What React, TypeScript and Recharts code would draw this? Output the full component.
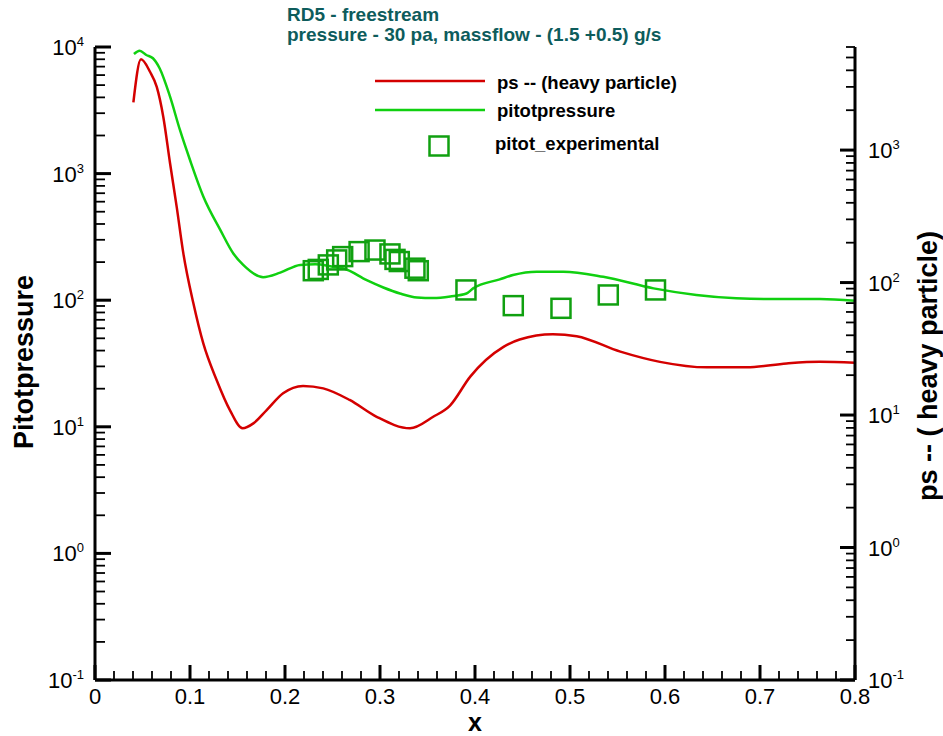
import React from "react";
import { ComposedChart, Line, Scatter, XAxis, YAxis } from "recharts";

// pitotpressure (left axis)
const pitotX = [
  0.041, 0.047, 0.054, 0.061, 0.068, 0.079, 0.0895, 0.1, 0.114, 0.132, 0.1456, 0.156, 0.177, 0.195, 0.216,
  0.232, 0.25, 0.262, 0.286, 0.3035, 0.321, 0.339, 0.356, 0.374, 0.391, 0.398, 0.426, 0.44, 0.465, 0.493,
  0.535, 0.588, 0.633, 0.675, 0.71, 0.763, 0.8,
];
const pitotY = [
  8800, 9350, 8650, 8150, 6800, 4050, 2200, 1280, 660, 358, 234, 190, 152, 165, 190,
  192, 184, 178, 144, 126, 113, 105, 104, 107, 113, 124, 146, 158, 168, 168,
  153, 124, 110, 103.5, 102, 102, 99,
];

// ps -- (heavy particle) (right axis)
const psX = [
  0.0404, 0.0484, 0.0579, 0.065, 0.0719, 0.079, 0.086, 0.093, 0.1035, 0.114, 0.128, 0.142, 0.1554, 0.1667,
  0.1807, 0.198, 0.219, 0.2403, 0.268, 0.2965, 0.3316, 0.356, 0.3737, 0.395, 0.43, 0.447, 0.482, 0.507,
  0.553, 0.5947, 0.644, 0.686, 0.728, 0.763, 0.8,
];
const psY = [
  2290, 4840, 3900, 3000, 1780, 795, 373, 166, 70, 34.7, 18.4, 10.9, 7.94, 8.65,
  10.9, 14.6, 16.6, 15.9, 13.0, 9.7, 7.94, 9.7, 11.8, 19.5, 32.7, 37.2, 40.8, 39.4,
  30.1, 25.2, 22.9, 22.9, 24.5, 25.2, 24.8,
];

// pitot_experimental (left axis)
const expX = [
  0.2298, 0.235, 0.2456, 0.2544, 0.2607, 0.278, 0.2947, 0.3105, 0.3158, 0.3203, 0.3368, 0.3403,
  0.3905, 0.4403, 0.4905, 0.5403, 0.59,
];
const expY = [171, 175, 190, 208, 221, 242, 249, 232, 210, 202, 179, 171, 120.5, 90.6, 86.3, 110, 120.5];

const xMajorTicks = [0, 0.1, 0.2, 0.3, 0.4, 0.5, 0.6, 0.7, 0.8];
const leftDecades = [0.1, 1, 10, 100, 1000, 10000];
const rightDecades = [0.1, 1, 10, 100, 1000];

const FONT = "'Liberation Sans', Arial, sans-serif";
const RED = "#d40000";
const GREEN = "#10d010";
const SQUARE = "#10a010";
const TITLE = "#0d5c5c";

const toRows = (xs: number[], ys: number[]) => xs.map((x, i) => ({ x, y: ys[i] }));
const pitotData = toRows(pitotX, pitotY);
const psData = toRows(psX, psY);
const expData = toRows(expX, expY);

const xTicks: number[] = [];
xMajorTicks.forEach((m, i) => {
  xTicks.push(m);
  if (i < xMajorTicks.length - 1) {
    for (let k = 1; k < 5; k++) xTicks.push(+(m + k * 0.02).toFixed(3));
  }
});

const logTicks = (decades: number[], max: number) => {
  const out: number[] = [];
  decades.forEach((d) => {
    out.push(d);
    for (let k = 2; k <= 9; k++) if (d < 10000) out.push(d * k);
  });
  return out.filter((v) => v <= max * 1.0001);
};
const leftTicks = logTicks(leftDecades, 10000);
const rightTicks = logTicks(rightDecades, 6000);

const isMajorLog = (v: number) => {
  const l = Math.log10(v);
  return Math.abs(l - Math.round(l)) < 1e-9;
};

const XTick = (props: any) => {
  const { x, y, payload } = props;
  const v = payload.value;
  const major = xMajorTicks.some((m) => Math.abs(m - v) < 1e-6);
  const len = major ? 15 : 9;
  return (
    <g>
      <path d={`M${x},${y}V${y - len}`} stroke="#000" strokeWidth={major ? 3 : 1.8} fill="none" />
      {major && (
        <text x={x} y={y + 24} textAnchor="middle" fontFamily={FONT} fontSize={22} fill="#000" stroke="none">
          {v === 0 ? "0" : String(v)}
        </text>
      )}
    </g>
  );
};

const LeftTick = (props: any) => {
  const { x, y, payload } = props;
  const v = payload.value;
  const major = isMajorLog(v);
  const len = major ? 16 : 10;
  return (
    <g>
      <path d={`M${x},${y}H${x + len}`} stroke="#000" strokeWidth={major ? 3 : 1.8} fill="none" />
      {major && (
        <text x={x - 11} y={y + 8} textAnchor="end" fontFamily={FONT} fontSize={22} fill="#000" stroke="none">
          10
          <tspan dy={-9} fontSize={13}>
            {Math.round(Math.log10(v))}
          </tspan>
        </text>
      )}
    </g>
  );
};

const RightTick = (props: any) => {
  const { x, y, payload } = props;
  const v = payload.value;
  const major = isMajorLog(v);
  const len = major ? 15 : 9;
  return (
    <g>
      <path d={`M${x},${y}H${x - len}`} stroke="#000" strokeWidth={major ? 3 : 1.8} fill="none" />
      {major && (
        <text x={x + 13} y={y + 8} textAnchor="start" fontFamily={FONT} fontSize={22} fill="#000" stroke="none">
          10
          <tspan dy={-9} fontSize={13}>
            {Math.round(Math.log10(v))}
          </tspan>
        </text>
      )}
    </g>
  );
};

const SquareShape = (props: any) => {
  const { cx, cy } = props;
  return <rect x={cx - 9.5} y={cy - 9.5} width={19} height={19} fill="none" stroke={SQUARE} strokeWidth={2.5} />;
};

export default function App() {
  return (
    <div style={{ position: "absolute", left: 0, top: 0, width: 943, height: 736, background: "#fff" }}>
      <ComposedChart width={943} height={736} margin={{ top: 47, right: 0, bottom: 0, left: 0 }}>
        <XAxis
          dataKey="x"
          type="number"
          domain={[0, 0.8]}
          ticks={xTicks}
          interval={0}
          height={56}
          tickSize={0}
          tickMargin={0}
          axisLine={{ stroke: "#000", strokeWidth: 3 }}
          tickLine={false}
          tick={(p: any) => <XTick {...p} />}
          allowDataOverflow
        />
        <YAxis
          yAxisId="left"
          orientation="left"
          scale="log"
          domain={[0.1, 10000]}
          ticks={leftTicks}
          interval={0}
          width={95}
          tickSize={0}
          tickMargin={0}
          axisLine={{ stroke: "#000", strokeWidth: 3 }}
          tickLine={false}
          tick={(p: any) => <LeftTick {...p} />}
          allowDataOverflow
        />
        <YAxis
          yAxisId="right"
          orientation="right"
          scale="log"
          domain={[0.1, 6000]}
          ticks={rightTicks}
          interval={0}
          width={88}
          tickSize={0}
          tickMargin={0}
          axisLine={{ stroke: "#000", strokeWidth: 3 }}
          tickLine={false}
          tick={(p: any) => <RightTick {...p} />}
          allowDataOverflow
        />
        <Line
          data={psData}
          yAxisId="right"
          dataKey="y"
          type="monotone"
          stroke={RED}
          strokeWidth={2.5}
          dot={false}
          isAnimationActive={false}
        />
        <Line
          data={pitotData}
          yAxisId="left"
          dataKey="y"
          type="monotone"
          stroke={GREEN}
          strokeWidth={2.5}
          dot={false}
          isAnimationActive={false}
        />
        <Scatter data={expData} yAxisId="left" dataKey="y" shape={(p: any) => <SquareShape {...p} />} isAnimationActive={false} />
      </ComposedChart>
      <svg width={943} height={736} style={{ position: "absolute", left: 0, top: 0, pointerEvents: "none" }}>
        <g fontFamily={FONT} fontWeight="bold">
          <text x={287} y={21} fontSize={19} fill={TITLE}>
            RD5 - freestream
          </text>
          <text x={287} y={41} fontSize={19} fill={TITLE}>
            pressure - 30 pa, massflow - (1.5 +0.5) g/s
          </text>
          <line x1={375} x2={485} y1={81} y2={81} stroke={RED} strokeWidth={2.5} />
          <line x1={375} x2={485} y1={110} y2={110} stroke={GREEN} strokeWidth={2.5} />
          <rect x={429.5} y={136.5} width={19} height={19} fill="none" stroke={SQUARE} strokeWidth={2.5} />
          <text x={497} y={89} fontSize={18.5} fill="#000">
            ps -- (heavy particle)
          </text>
          <text x={497} y={117} fontSize={18.5} fill="#000">
            pitotpressure
          </text>
          <text x={495} y={150} fontSize={18.5} fill="#000">
            pitot_experimental
          </text>
          <text x={475} y={731} fontSize={25} textAnchor="middle" fill="#000">
            x
          </text>
          <text x={33} y={362} fontSize={27} textAnchor="middle" fill="#000" transform="rotate(-90 33 362)">
            Pitotpressure
          </text>
          <text x={937} y={366} fontSize={27} textAnchor="middle" fill="#000" transform="rotate(-90 937 366)">
            ps -- ( heavy particle)
          </text>
        </g>
      </svg>
    </div>
  );
}
